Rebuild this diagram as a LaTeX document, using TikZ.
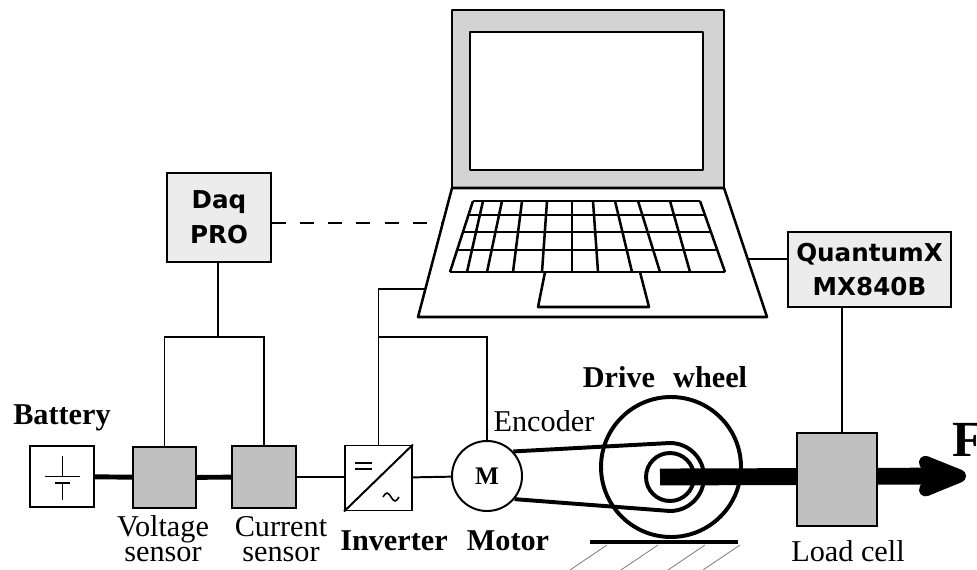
\documentclass[tikz,border=0pt]{standalone}
\usepackage{fontspec}
\setmainfont{Liberation Serif}
\newfontfamily\boxfont{DejaVu Sans}
\usetikzlibrary{arrows.meta,calc}

\definecolor{sensorgray}{RGB}{192,192,192}
\definecolor{boxgray}{RGB}{236,236,236}
\definecolor{bezelgray}{RGB}{211,211,211}

\tikzset{
  sensorbox/.style={draw, line width=1.4pt, fill=sensorgray, inner sep=0pt},
  databox/.style={draw, line width=1.4pt, fill=boxgray, inner sep=0pt, align=center,
    font=\boxfont\bfseries\fontsize{17.5}{24.8}\selectfont},
  wire/.style={line width=1.4pt},
  powerline/.style={line width=3.5pt},
  laptop/.style={line width=1.8pt, line join=round},
  wheelline/.style={line width=2.8pt},
  lbl/.style={inner sep=0pt, align=center, font=\fontsize{21.5}{17.7}\selectfont},
  blbl/.style={lbl, font=\bfseries\fontsize{21.5}{17.7}\selectfont},
}

\begin{document}
\begin{tikzpicture}[x=0.025cm, y=-0.025cm]
  \useasboundingbox (0,0) rectangle (977,570);

  % laptop
  \draw[laptop, fill=bezelgray] (452,10) rectangle (724,188);
  \draw[laptop, fill=white] (470,32) rectangle (703,170);
  \draw[laptop] (452,188) -- (724,188) -- (767,317) -- (418,317) -- cycle;
  \foreach \r in {0, 0.197, 0.437, 0.69, 1}
    \draw[laptop] ($(473,201)!\r!(450,272)$) -- ($(700,201)!\r!(725,272)$);
  \foreach \t/\b in {473/450, 483/467, 502/487, 522/513, 547/542, 572/572,
                     593/598, 615/632, 638/660, 670/690, 700/725}
    \draw[laptop] (\t,201) -- (\b,272);
  \draw[laptop] (545,272) -- (538,307) -- (649,307) -- (640,272);
  \coordinate (lapL) at (443,223);
  \coordinate (lapLow) at (425,289);
  \coordinate (lapR) at (748,259);

  % drive train
  \node[draw, line width=1.4pt, circle, minimum size=1.75cm, inner sep=0pt,
        font=\bfseries\fontsize{18}{18}\selectfont] (motor) at (487,476) {M};
  \draw[wheelline] (671,467) circle[radius=70];
  \draw[wheelline] (motor.43) -- (670,443) arc[start angle=-90, end angle=90, radius=34]
    -- (motor.-40);
  \draw[wheelline] (670,477) circle[radius=24];
  \draw[line width=2.5pt] (590,542) -- (738,542);
  \foreach \x in {607,658,705,740}
    \draw[gray, line width=0.6pt] (\x,545) -- ++(-37,25);
  \coordinate (hub) at (660,477);
  \draw[line width=12pt, -{Stealth[length=16mm, width=12.5mm, inset=3mm, round]}]
    (hub) -- (966,476);

  % boxes
  \node[draw, line width=1.4pt, fill=white, minimum width=1.6cm, minimum height=1.525cm]
    (battery) at (62,476.5) {};
  \node[sensorbox, minimum width=1.575cm, minimum height=1.525cm] (voltage) at (164.5,477.5) {};
  \node[sensorbox, minimum width=1.6cm, minimum height=1.55cm] (current) at (264,477) {};
  \node[draw, line width=1.4pt, fill=white, minimum width=1.675cm, minimum height=1.625cm]
    (inverter) at (378.5,478) {};
  \node[sensorbox, minimum width=2cm, minimum height=2.325cm] (loadcell) at (837,479.5) {};
  \node[databox, minimum width=2.6cm, minimum height=2.225cm] (daq) at (219,217.5) {Daq\\PRO};
  \node[databox, minimum width=4.075cm, minimum height=1.875cm] (qx) at (869.5,269.5)
    {QuantumX\\MX840B};

  % battery and inverter symbols
  \draw[wire] (battery.center) ++(-17,0) -- ++(35,0);
  \draw[wire] (battery.center) ++(-7,6.5) -- ++(15,0);
  \draw[wire] (battery.center) ++(0.5,-20.5) -- ++(0,21);
  \draw[wire] (battery.center) ++(0.5,6.5) -- ++(0,17);
  \draw[wire] (inverter.south west) -- (inverter.north east);
  \draw[line width=1.8pt] (355,463) -- (372,463) (355,469) -- (372,469);
  \draw[line width=1.1pt] (383,497) sin (387,493) cos (391,497) sin (395,501) cos (399,497);

  % power path
  \draw[powerline] (battery) -- (voltage);
  \draw[powerline] (voltage) -- (current);
  \draw[wire] (current.east) -- (current.east -| inverter.west);
  \draw[wire] (inverter) -- (motor);

  % signal wiring
  \coordinate (daqsplit) at (218,337);
  \coordinate (ctrltap) at (378.5,337);
  \draw[wire] (daq.south -| daqsplit) -- (daqsplit);
  \draw[wire] (voltage.north) |- (daqsplit) -| (current.north);
  \draw[wire, dashed, dash pattern=on 10pt off 10pt] (daq.east |- lapL) -- (lapL);
  \draw[wire] (lapLow) -| (inverter.north);
  \draw[wire] (ctrltap) -| (motor.north);
  \draw[wire] (lapR) -- (lapR -| qx.west);
  \draw[wire] ([xshift=0.12cm]loadcell.north) -- ([xshift=0.12cm]loadcell.north |- qx.south);

  % labels
  \node[blbl] (batterylbl) at (62,418) {Battery};
  \node[lbl] (voltagelbl) at (163,539) {Voltage\\sensor};
  \node[lbl] (currentlbl) at (281,539) {Current\\sensor};
  \node[blbl] (inverterlbl) at (394,541) {Inverter};
  \node[blbl] (motorlbl) at (508,541) {Motor};
  \node[lbl] (encoderlbl) at (544,421) {Encoder};
  \node[blbl] (wheellbl) at (665,377) {Drive\hspace{0.6em}wheel};
  \node[lbl] (loadcelllbl) at (848,551) {Load cell};
  \node[inner sep=0pt, anchor=west, font=\bfseries\fontsize{36}{36}\selectfont]
    (force) at (952,440) {F};
\end{tikzpicture}
\end{document}
